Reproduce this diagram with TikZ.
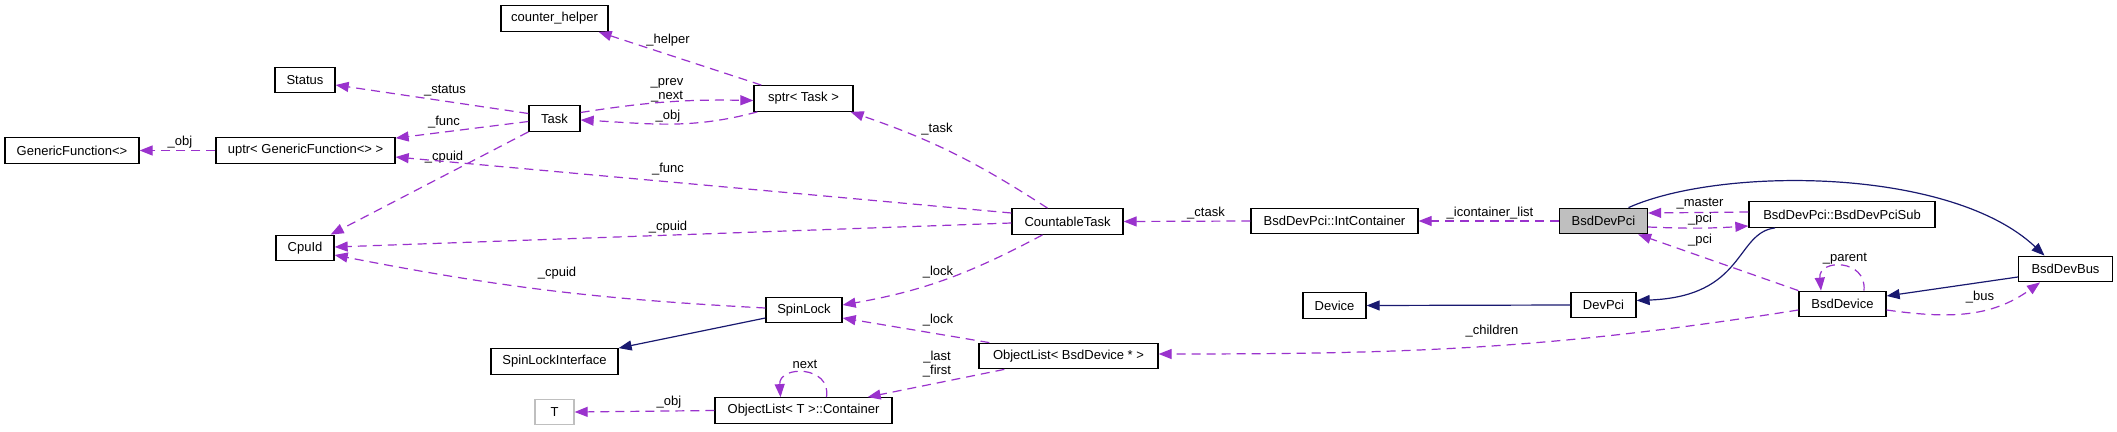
\documentclass[tikz,border=0pt]{standalone}
\usepackage{fontspec}
\setmainfont{Liberation Sans}
\usepackage{xcolor}
\usepackage{tikz}
\usetikzlibrary{arrows.meta}
\definecolor{usecol}{HTML}{9A32CD}
\definecolor{inhcol}{HTML}{191970}
\definecolor{grey75}{HTML}{BFBFBF}

\begin{document}
\begin{tikzpicture}[
    x=1pt, y=-1pt,
    kelas/.style={draw=black, line width=1.3pt, minimum height=25.5pt, inner sep=0pt,
                  font=\fontsize{13}{15}\selectfont},
    label/.style={font=\fontsize{13}{14}\selectfont, inner sep=0pt, align=center},
    pakai/.style={draw=usecol, line width=1.2pt, dash pattern=on 9pt off 6pt,
                  -{Triangle[length=13pt, width=10pt]}},
    turunan/.style={draw=inhcol, line width=1.2pt, -{Triangle[length=13pt, width=10pt]}}
  ]
    \useasboundingbox[fill=white] (0,0) rectangle (2117,431);
    \node[kelas, minimum width=107pt] (helper)  at (554.5,18.5)  {counter\_helper};
    \node[kelas, minimum width=60pt]  (status)  at (305,80)      {Status};
    \node[kelas, minimum width=51pt]  (task)    at (554.5,118.5) {Task};
    \node[kelas, minimum width=134pt] (genfunc) at (72,150.5)    {GenericFunction<>};
    \node[kelas, minimum width=179pt] (uptr)    at (305.5,150.5) {uptr< GenericFunction<> >};
    \node[kelas, minimum width=58pt]  (cpuid)   at (305,248)     {CpuId};
    \node[kelas, minimum width=127pt] (sli)     at (554.5,361.5) {SpinLockInterface};
    \node[kelas, draw=grey75, minimum width=39pt] (tparam) at (554.5,412) {T};
    \node[kelas, minimum width=99pt]  (sptr)    at (803.5,98.5)  {sptr< Task >};
    \node[kelas, minimum width=111pt] (ctask)   at (1067.5,221.5) {CountableTask};
    \node[kelas, minimum width=76pt]  (spin)    at (804,310)     {SpinLock};
    \node[kelas, minimum width=179pt] (oldev)   at (1068.5,356)  {ObjectList< BsdDevice * >};
    \node[kelas, minimum width=177pt] (olcont)  at (803.5,410.5) {ObjectList< T >::Container};
    \node[kelas, minimum width=167pt] (intc)    at (1334.5,221)  {BsdDevPci::IntContainer};
    \node[kelas, fill=grey75, minimum width=88pt] (pci) at (1603.5,221) {BsdDevPci};
    \node[kelas, minimum width=186pt] (pcisub)  at (1842,214.5)  {BsdDevPci::BsdDevPciSub};
    \node[kelas, minimum width=94pt]  (bus)     at (2065.5,269)  {BsdDevBus};
    \node[kelas, minimum width=63pt]  (device)  at (1334.5,305.5) {Device};
    \node[kelas, minimum width=65pt]  (devpci)  at (1603.5,305)  {DevPci};
    \node[kelas, minimum width=87pt]  (bsddev)  at (1842.5,304)  {BsdDevice};

    \draw[pakai] ([xshift=8pt]sptr.north west) -- ([xshift=-10pt]helper.south east)
      node[label] at (668,40) {\_helper};
    \draw[pakai] ([yshift=5pt]task.west) -- ([yshift=-5pt]status.east)
      node[label] at (445,91) {\_status};
    \draw[pakai] ([yshift=-3pt]task.west) -- ([yshift=-1pt]uptr.north east)
      node[label] at (444,122) {\_func};
    \draw[pakai] (task.south west) -- ([xshift=-4pt]cpuid.north east)
      node[label] at (444,157) {\_cpuid};
    \draw[pakai] (uptr.west) -- (genfunc.east)
      node[label] at (180,142) {\_obj};
    \draw[pakai] ([yshift=6pt]task.east) to[bend left=5] ([yshift=-2pt]sptr.west)
      node[label] at (667,90) {\_prev\\\_next};
    \draw[pakai] ([xshift=4pt]sptr.south west) to[out=195, in=-3] ([yshift=-1.5pt]task.east)
      node[label] at (668,116) {\_obj};
    \draw[pakai] ([xshift=-20pt]ctask.north) to[out=147, in=-19] ([xshift=-3pt]sptr.south east)
      node[label] at (937,129) {\_task};
    \draw[pakai] ([yshift=8.5pt]ctask.west) -- ([yshift=-6.5pt]uptr.east)
      node[label] at (668,169) {\_func};
    \draw[pakai] ([yshift=-1.5pt]ctask.west) -- ([yshift=1pt]cpuid.east)
      node[label] at (668,227) {\_cpuid};
    \draw[pakai] ([yshift=2pt]spin.west) to[bend left=4] ([yshift=-7pt]cpuid.east)
      node[label] at (557,273) {\_cpuid};
    \draw[turunan] ([yshift=-8pt]spin.west) -- (sli.north east);
    \draw[pakai] ([xshift=-25pt]ctask.south) to[out=208, in=10] ([yshift=5pt]spin.east)
      node[label] at (938,272) {\_lock};
    \draw[pakai] ([xshift=11pt]oldev.north west) -- ([yshift=-8pt]spin.east)
      node[label] at (938,320) {\_lock};
    \draw[pakai] ([xshift=26pt]oldev.south west) -- ([xshift=-25pt]olcont.north east)
      node[label] at (937,364) {\_last\\\_first};
    \draw[pakai] ([xshift=23pt]olcont.north) .. controls +(5,-32) and +(-2,-32) .. ([xshift=-23pt]olcont.north)
      node[label] at (805,364) {next};
    \draw[pakai] (olcont.west) -- (tparam.east)
      node[label] at (669,402) {\_obj};
    \draw[pakai] (intc.west) -- (ctask.east)
      node[label] at (1206,213) {\_ctask};
    \draw[pakai] (pci.west) -- (intc.east)
      node[label] at (1490,213) {\_icontainer\_list};
    \draw[pakai] ([yshift=2.5pt]pcisub.west) -- ([yshift=8pt]pci.east)
      node[label] at (1700,204) {\_master};
    \draw[pakai] ([yshift=-6pt]pci.east) to[bend right=3] ([yshift=-11.5pt]pcisub.west)
      node[label] at (1700,219) {\_pci};
    \draw[pakai] (bsddev.north west) -- ([xshift=-10pt]pci.south east)
      node[label] at (1700,240) {\_pci};
    \draw[turunan] ([xshift=25pt]pci.north) .. controls +(91.5,-41) and +(-94.5,-89) .. ([xshift=-21pt]bus.north);
    \draw[turunan] ([xshift=-67pt]pcisub.south) .. controls +(-40,5) and +(109,-4) .. ([yshift=4.5pt]devpci.east);
    \draw[turunan] (devpci.west) -- (device.east);
    \draw[turunan] ([yshift=-8pt]bus.west) -- ([yshift=8pt]bsddev.east);
    \draw[pakai] ([yshift=-6pt]bsddev.east) to[out=-8, in=216] ([xshift=-25.5pt]bus.south)
      node[label] at (1980,297) {\_bus};
    \draw[pakai] ([xshift=21.5pt]bsddev.north) .. controls +(3,-32) and +(-3,-32) .. ([xshift=-21.5pt]bsddev.north)
      node[label] at (1845,259) {\_parent};
    \draw[pakai] ([yshift=-6pt]bsddev.west) to[out=189, in=0] ([yshift=2pt]oldev.east)
      node[label] at (1492,331) {\_children};
  \end{tikzpicture}
\end{document}
